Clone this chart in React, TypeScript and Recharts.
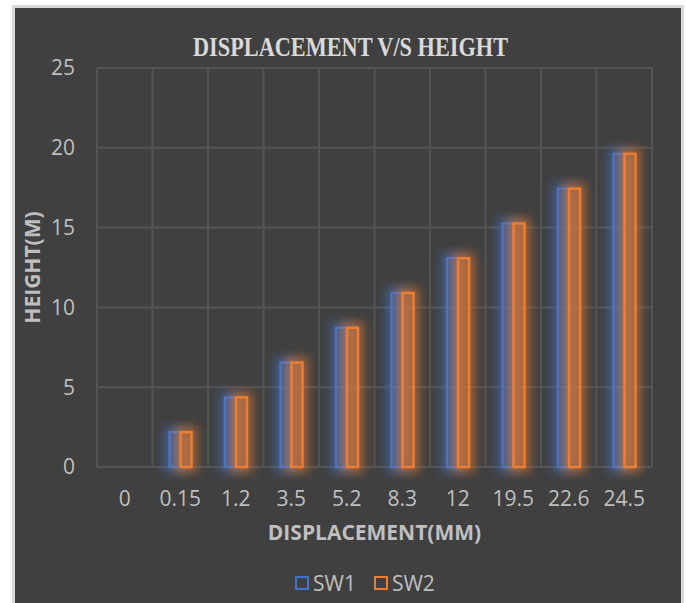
import React from 'react';
import { BarChart, Bar, XAxis, YAxis, CartesianGrid, Legend, Label } from 'recharts';

const categories = ['0', '0.15', '1.2', '3.5', '5.2', '8.3', '12', '19.5', '22.6', '24.5'];
const sw1 = [0, 2.18, 4.36, 6.54, 8.72, 10.9, 13.08, 15.26, 17.44, 19.62];
const sw2 = [0, 2.18, 4.36, 6.54, 8.72, 10.9, 13.08, 15.26, 17.44, 19.62];
const heightTicks = [0, 5, 10, 15, 20, 25];

const data = categories.map((c, i) => ({ disp: c, SW1: sw1[i], SW2: sw2[i] }));

const BLUE = '#4472C4';
const ORANGE = '#ED7D31';
const TEXT = '#bfbfbf';
const GRID = '#545454';
const FONT = '"Open Sans", sans-serif';

const W = 666;
const H = 595;

// hollow bar with a soft coloured glow behind the outline
function GlowBar(props: any) {
  const { x, y, width, height, color } = props;
  if (!height || height <= 0) return null;
  return (
    <g>
      <rect x={x} y={y} width={width} height={height} fill={color} fillOpacity={0.25} stroke={color}
        strokeWidth={12} strokeOpacity={0.5} style={{ filter: 'blur(5px)' }} />
      <rect x={x} y={y} width={width} height={height} fill={color} fillOpacity={0.12}
        stroke={color} strokeWidth={2.5} />
    </g>
  );
}

function LegendBox({ payload }: any) {
  return (
    <div style={{ display: 'flex', alignItems: 'center', fontFamily: FONT, fontSize: 21, color: TEXT }}>
      {(payload || []).map((p: any, i: number) => (
        <div key={p.value} style={{ display: 'flex', alignItems: 'center', marginLeft: i ? 18 : 0 }}>
          <span style={{ width: 14, height: 14, boxSizing: 'border-box', border: `2.5px solid ${p.color}`, marginRight: 4 }} />
          <span>{p.value}</span>
        </div>
      ))}
    </div>
  );
}

export default function App() {
  return (
    <div style={{
      position: 'absolute', left: 12, top: 5, width: W, height: H,
      background: '#404040', border: '3px solid #d9d9d9', borderBottom: 'none',
    }}>
      <svg width={W} height={70} style={{ position: 'absolute', left: 0, top: 0 }}>
        <text x={335.5} y={48} textAnchor="middle" fill="#d9d9d9" fontFamily='"Liberation Serif", serif'
          fontWeight="bold" fontSize={28} textLength={315} lengthAdjust="spacingAndGlyphs">
          DISPLACEMENT V/S HEIGHT
        </text>
      </svg>
      <BarChart width={W} height={H} data={data} margin={{ top: 60, right: 29, bottom: 0, left: 0 }}
        barSize={11} barGap={0}>
        <CartesianGrid stroke={GRID} strokeWidth={2}
          verticalCoordinatesGenerator={({ offset }: any) =>
            Array.from({ length: categories.length + 1 }, (_, i) => offset.left + (i * offset.width) / categories.length)} />
        <XAxis dataKey="disp" height={136} axisLine={false} tickLine={false} tickSize={0} tickMargin={24}
          tick={{ fill: TEXT, fontFamily: FONT, fontSize: 21 }} interval={0}>
          <Label content={({ viewBox }: any) => (
            <text x={viewBox.x + viewBox.width / 2} y={viewBox.y + 73} textAnchor="middle" fill={TEXT}
              fontFamily={FONT} fontWeight="bold" fontSize={21}>DISPLACEMENT(MM)</text>
          )} />
        </XAxis>
        <YAxis width={82} domain={[0, 25]} ticks={heightTicks} axisLine={false} tickLine={false}
          tickSize={0} tickMargin={22} tick={{ fill: TEXT, fontFamily: FONT, fontSize: 21 }}>
          <Label content={({ viewBox }: any) => {
            const cx = viewBox.x + 25;
            const cy = viewBox.y + viewBox.height / 2;
            return (
              <text x={cx} y={cy} transform={`rotate(-90 ${cx} ${cy})`} textAnchor="middle" fill={TEXT}
                fontFamily={FONT} fontWeight="bold" fontSize={21}>HEIGHT(M)</text>
            );
          }} />
        </YAxis>
        <Legend verticalAlign="middle" align="center" layout="horizontal" content={<LegendBox />}
          wrapperStyle={{ position: 'absolute', top: 561, left: 280, width: 250 }} />
        <Bar dataKey="SW1" name="SW1" fill={BLUE} isAnimationActive={false}
          shape={(p: any) => <GlowBar {...p} color={BLUE} />} />
        <Bar dataKey="SW2" name="SW2" fill={ORANGE} isAnimationActive={false}
          shape={(p: any) => <GlowBar {...p} color={ORANGE} />} />
      </BarChart>
    </div>
  );
}
